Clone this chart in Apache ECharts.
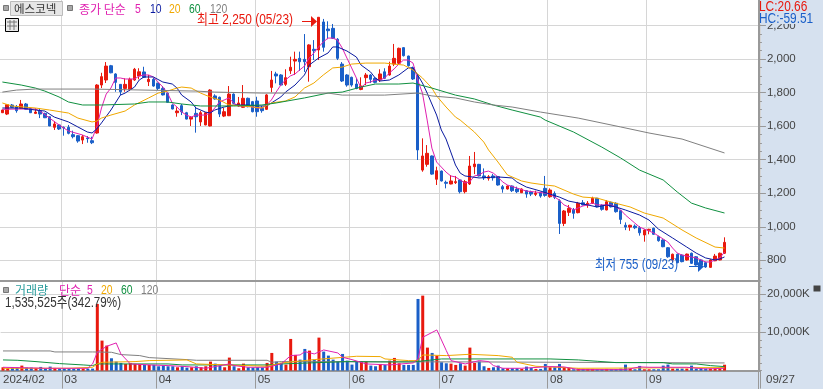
<!DOCTYPE html>
<html><head><meta charset="utf-8">
<style>html,body{margin:0;padding:0;background:#fff}#c{width:823px;height:389px}</style>
<script src="https://cdn.jsdelivr.net/npm/echarts@6/dist/echarts.min.js"></script>
</head><body><div id="c"></div>
<script>
// [open, close, low, high]
const ohlc = [[1680,1696,1678,1699],[1672,1728,1666,1732],[1726,1712,1708,1732],[1716,1692,1680,1726],[1706,1732,1702,1756],[1732,1700,1696,1738],[1704,1680,1678,1708],[1676,1684,1672,1706],[1690,1672,1648,1708],[1676,1650,1648,1680],
[1656,1601,1600,1658],[1593,1613,1577,1630],[1607,1583,1577,1613],[1593,1590,1543,1598],[1593,1557,1551,1607],[1549,1537,1527,1573],[1543,1511,1501,1547],[1517,1537,1493,1547],[1529,1525,1501,1541],[1513,1501,1493,1537],
[1559,1845,1555,1850],[1845,1895,1827,1918],[1875,1958,1857,1982],[1960,1918,1915,1965],[1911,1861,1805,1915],[1849,1805,1785,1850],[1825,1849,1805,1885],[1819,1879,1809,1889],[1875,1939,1870,1947],[1899,1924,1879,1945],
[1923,1891,1888,1954],[1865,1879,1839,1905],[1879,1839,1835,1887],[1855,1825,1815,1860],[1825,1786,1783,1839],[1796,1742,1740,1800],[1726,1702,1700,1730],[1680,1690,1656,1712],[1722,1686,1666,1732],[1680,1642,1640,1685],
[1642,1653,1601,1660],[1676,1656,1561,1716],[1625,1680,1601,1690],[1607,1680,1605,1684],[1601,1815,1598,1820],[1780,1762,1758,1790],[1772,1672,1654,1776],[1660,1686,1654,1708],[1662,1791,1660,1839],[1791,1736,1732,1795],
[1720,1738,1715,1774],[1712,1766,1708,1845],[1766,1716,1712,1770],[1746,1686,1682,1750],[1750,1686,1656,1775],[1706,1692,1680,1720],[1700,1786,1696,1791],[1831,1875,1802,1929],[1911,1899,1855,1924],[1905,1845,1842,1910],
[1849,1889,1839,1939],[1930,1951,1911,2014],[1988,1998,1905,2044],[2004,1984,1929,2044],[1998,1984,1923,2149],[1954,2084,1865,2088],[2058,2050,1994,2113],[2054,2249,1994,2250],[2221,2070,2044,2239],[2179,2169,2118,2225],
[2183,2124,2120,2209],[2118,2004,1994,2125],[1970,1869,1863,1982],[1905,1845,1835,1910],[1891,1845,1835,1895],[1851,1825,1820,1885],[1819,1839,1814,1891],[1889,1905,1845,1917],[1905,1879,1857,1910],[1885,1861,1855,1890],
[1875,1911,1863,1939],[1924,1885,1880,1945],[1905,1958,1901,1984],[1970,2004,1958,2090],[1975,2064,1970,2068],[2068,2020,2015,2070],[2018,1960,1955,2020],[1948,1881,1875,1955],[1899,1458,1398,1905],[1338,1422,1328,1527],
[1372,1438,1358,1487],[1422,1314,1310,1425],[1283,1334,1249,1358],[1332,1273,1270,1335],[1265,1259,1229,1275],[1255,1273,1253,1308],[1263,1269,1255,1303],[1279,1209,1199,1283],[1209,1269,1199,1279],[1255,1362,1249,1422],
[1358,1374,1314,1446],[1372,1303,1300,1375],[1303,1292,1279,1348],[1289,1298,1275,1308],[1303,1292,1275,1315],[1298,1249,1245,1303],[1239,1225,1203,1249],[1225,1243,1222,1246],[1243,1215,1207,1246],[1225,1209,1201,1239],
[1203,1225,1201,1229],[1215,1195,1173,1218],[1207,1195,1183,1215],[1193,1201,1183,1215],[1203,1183,1173,1209],[1229,1187,1179,1303],[1179,1219,1173,1229],[1199,1176,1165,1211],[1155,1020,957,1164],[1020,1094,1004,1100],
[1086,1110,1064,1130],[1100,1080,1048,1112],[1084,1140,1080,1148],[1143,1130,1128,1159],[1130,1140,1113,1153],[1140,1170,1136,1179],[1170,1119,1115,1172],[1128,1104,1096,1134],[1100,1149,1098,1159],[1146,1119,1115,1150],
[1140,1090,1084,1146],[1096,1044,1016,1100],[1009,998,980,1026],[998,1009,976,1012],[1004,994,986,1014],[994,964,947,1004],[951,980,911,985],[979,985,955,988],[991,955,952,995],[941,917,911,947],
[921,881,878,925],[875,821,815,879],[802,836,790,840],[836,786,782,840],[831,792,788,836],[802,837,798,840],[842,782,778,846],[821,772,768,825],[802,772,768,808],[786,760,755,792],
[758,802,756,806],[797,825,795,838],[802,842,800,846],[842,907,838,937]];

const volume = [870,609,783,783,1305,783,783,696,957,609,1044,696,522,522,522,522,522,522,522,522,
17400,7830,6525,3219,2349,2001,1740,2001,1740,1740,1479,1479,1479,1131,1305,1131,1131,870,1131,783,
870,1131,870,1131,2349,1827,1305,870,3393,1131,609,1827,870,783,870,783,2001,4611,2349,2001,
1566,8265,4089,2871,5655,5220,2871,8613,4959,3915,2871,2349,4350,2610,1566,2349,2436,2436,1305,1131,
1740,1479,2610,3306,1914,1479,1479,1479,18705,19575,6003,4611,3915,2175,1914,1827,1479,1914,1305,6003,
2001,2349,1131,696,870,1305,609,609,609,609,435,1044,696,435,435,1740,870,870,1740,870,
696,348,522,435,435,435,348,348,435,348,348,522,1566,435,348,1218,348,348,348,348,
1305,1566,522,522,522,522,1305,522,522,522,522,522,522,1536];

const ma5 = [[0,1700],[3,1702],[7,1702],[8,1690],[10,1648],[12,1607],[14,1571],[17,1547],[19,1523],[20,1595],[21,1708],[22,1791],[23,1827],[24,1887],[25,1887],[26,1881],[28,1881],[29,1899],[30,1905],[31,1905],[32,1893],[33,1863],[34,1833],[35,1797],[36,1738],[37,1714],[38,1684],[39,1666],[40,1654],[41,1666],[43,1666],[44,1678],[45,1708],[46,1744],[47,1756],[48,1768],[49,1738],[50,1720],[52,1720],[54,1708],[55,1708],[56,1726],[57,1756],[58,1803],[59,1845],[60,1875],[61,1899],[62,1911],[63,1935],[64,1958],[65,2006],[66,2036],[67,2072],[68,2102],[69,2125],[70,2125],[71,2113],[72,2066],[73,2006],[74,1947],[75,1887],[76,1827],[77,1857],[78,1863],[79,1875],[80,1875],[81,1887],[82,1917],[83,1941],[84,1970],[85,1994],[86,1994],[87,1976],[88,1875],[89,1797],[90,1636],[91,1469],[92,1386],[93,1356],[94,1326],[95,1303],[96,1297],[97,1279],[98,1261],[99,1267],[100,1303],[101,1309],[102,1326],[103,1332],[104,1320],[105,1297],[106,1267],[107,1249],[109,1231],[111,1213],[113,1207],[115,1201],[116,1195],[117,1177],[118,1159],[119,1130],[120,1118],[121,1100],[122,1112],[123,1124],[124,1130],[125,1142],[126,1130],[127,1130],[129,1130],[130,1118],[131,1100],[132,1070],[133,1046],[134,1022],[135,998],[136,987],[137,975],[138,963],[139,945],[140,927],[141,909],[142,873],[143,843],[144,831],[145,825],[146,820],[147,814],[148,802],[149,790],[150,790],[151,802],[152,814],[153,849]];
const ma10 = [[0,1708],[4,1708],[7,1696],[9,1690],[11,1654],[14,1625],[16,1595],[18,1565],[19,1559],[20,1583],[21,1619],[23,1696],[25,1785],[26,1797],[28,1833],[29,1875],[30,1893],[32,1893],[34,1863],[36,1851],[37,1827],[38,1785],[40,1744],[41,1708],[43,1684],[44,1678],[45,1696],[47,1714],[49,1726],[52,1726],[54,1720],[56,1720],[57,1738],[59,1774],[60,1803],[62,1845],[64,1905],[65,1964],[67,2006],[69,2036],[70,2072],[71,2072],[73,2048],[75,2012],[76,1964],[78,1923],[79,1887],[80,1869],[82,1875],[84,1905],[86,1947],[87,1947],[88,1905],[89,1857],[90,1797],[92,1666],[93,1577],[94,1523],[95,1446],[96,1368],[97,1320],[98,1303],[101,1291],[105,1297],[108,1291],[109,1267],[111,1237],[114,1213],[116,1195],[118,1177],[120,1153],[122,1142],[124,1130],[126,1118],[128,1130],[130,1118],[132,1100],[135,1070],[137,1040],[139,986],[142,933],[145,879],[147,843],[149,814],[151,802],[152,808],[153,820]];
const ma20 = [[0,1738],[2,1720],[7,1708],[10,1696],[14,1678],[16,1648],[19,1625],[20,1630],[21,1648],[23,1666],[26,1690],[28,1726],[31,1768],[33,1797],[35,1809],[37,1827],[38,1833],[40,1827],[42,1797],[44,1774],[46,1756],[48,1726],[51,1720],[55,1708],[57,1738],[60,1750],[62,1774],[64,1827],[66,1857],[68,1905],[70,1947],[72,1952],[74,1970],[77,1976],[81,1976],[85,1964],[87,1935],[88,1911],[89,1887],[91,1827],[92,1780],[94,1714],[96,1654],[97,1636],[100,1565],[102,1505],[103,1458],[105,1386],[107,1309],[110,1273],[112,1261],[115,1249],[117,1243],[119,1219],[121,1195],[123,1177],[126,1171],[129,1147],[133,1118],[136,1082],[140,1052],[144,981],[147,933],[151,879],[153,873]];
const ma60 = [[0,1863],[4,1845],[7,1827],[9,1809],[12,1774],[14,1744],[17,1726],[21,1726],[28,1732],[31,1744],[35,1744],[38,1732],[42,1720],[49,1720],[55,1726],[58,1738],[64,1768],[69,1797],[72,1803],[76,1833],[79,1851],[84,1851],[87,1857],[91,1827],[96,1785],[100,1762],[104,1726],[108,1696],[114,1654],[115,1636],[121,1565],[127,1475],[131,1410],[135,1338],[140,1279],[143,1207],[146,1141],[149,1112],[153,1082]];
const ma120 = [[0,1803],[3,1815],[7,1821],[19,1821],[41,1809],[45,1803],[55,1797],[69,1797],[72,1785],[81,1785],[88,1797],[91,1780],[96,1768],[100,1744],[104,1726],[108,1714],[114,1684],[122,1648],[131,1595],[137,1559],[144,1523],[153,1440]];

const volMa5 = [[0,870],[9,609],[18,609],[19,1740],[20,4785],[22,6351],[24,7221],[25,4350],[27,1740],[31,1479],[35,1305],[39,1044],[43,609],[48,1740],[49,1305],[52,870],[56,870],[59,1740],[61,3915],[63,4089],[64,4959],[66,4350],[68,5394],[71,4611],[72,3480],[74,2871],[77,1740],[82,1479],[87,2001],[88,3045],[89,8700],[92,10614],[94,5220],[95,2610],[98,1740],[101,2610],[103,2349],[104,1305],[106,609],[110,609],[116,1044],[119,957],[122,261],[132,261],[135,957],[137,870],[145,870],[149,435],[153,609]];
const volMa20 = [[0,609],[14,609],[19,870],[20,1740],[21,2175],[28,2349],[31,2610],[39,2784],[41,1740],[56,1131],[59,2001],[66,2871],[75,3741],[80,3654],[81,3045],[86,2610],[88,2610],[89,4089],[94,3915],[99,4263],[105,3915],[108,3480],[109,2175],[113,1131],[122,609],[153,783]];
const volMa60 = [[0,2784],[3,2697],[7,2349],[12,1827],[17,1479],[19,1305],[20,1740],[35,1740],[38,1479],[56,1479],[59,1740],[73,2349],[80,2262],[87,2262],[93,3045],[116,3045],[122,2784],[126,2436],[130,2088],[140,2088],[142,1740],[147,1740],[150,1305],[153,1044]];
const volMa120 = [[0,5133],[10,5133],[11,4872],[19,4872],[23,4785],[25,4176],[29,3915],[31,3393],[39,2871],[41,2697],[56,2697],[57,2175],[59,2349],[100,2262],[118,2175],[153,2001]];

const monthLabels = {0:'2024/02',13:'03',33:'04',54:'05',74:'06',93:'07',116:'08',137:'09'};
const monthLines = [13,33,54,74,93,116,137];
const categories = Array.from({length:161},(_,i)=>String(i));
const priceLabels = [800,1000,1200,1400,1600,1800,2000,2200];
const priceMinor = [700,750,850,900,950,1050,1100,1150,1250,1300,1350,1450,1500,1550,1650,1700,1750,1850,1900,1950,2050,2100,2150,2250,2300,2350];
const volLabels = [10000,20000];
const volMinor = [0,2000,4000,6000,8000,12000,14000,16000,18000,22000];

const RED='#e8190e', BLUE='#1a5fc8', MAG='#e020b0', NAVY='#0a1aa0', ORG='#f0a800', GRN='#109040', GRY='#808080';
const AX='#999999', GL='#d6d6d6', PANEL='#d6e1ef', TXT='#444444';
const NARROW='"Liberation Sans",sans-serif';
const CJK='"Liberation Sans","Noto Sans CJK KR",sans-serif';
const KR='"Noto Sans CJK KR",sans-serif';

function xAxisOf(gi, labels){
  return {type:'category',gridIndex:gi,data:categories,boundaryGap:true,
    axisLine:{show:true,lineStyle:{color:AX,width:2}},
    axisTick:{show:labels,length:18,lineStyle:{color:AX,width:1},interval:i=>monthLines.includes(i)},
    axisLabel:{show:labels,interval:i=>i in monthLabels,formatter:(v,i)=>monthLabels[i],align:'left',margin:3,color:TXT,fontSize:11.5,fontFamily:NARROW},
    splitLine:{show:true,lineStyle:{color:GL,width:1},interval:i=>monthLines.includes(i)}};
}
function yAxes(gi,min,max,major,minor,fmt){
  return [{type:'value',gridIndex:gi,position:'right',offset:-1,min,max,
      axisLine:{show:true,lineStyle:{color:AX,width:2}},
      axisTick:{show:true,length:7,customValues:major,lineStyle:{color:AX}},
      axisLabel:{show:true,customValues:major,formatter:fmt,margin:8,color:TXT,fontSize:11.5,fontFamily:NARROW,align:'left',showMinLabel:true,showMaxLabel:true},
      splitLine:{show:true,lineStyle:{color:GL,width:1}}},
    {type:'value',gridIndex:gi,position:'right',offset:-1,min,max,
      axisLine:{show:false},
      axisTick:{show:true,length:3,customValues:minor,lineStyle:{color:AX}},
      axisLabel:{show:false},splitLine:{show:false}}];
}
function line(name,data,color,x,y){
  return {name,type:'line',data,xAxisIndex:x,yAxisIndex:y,showSymbol:false,symbol:'none',smooth:false,
    lineStyle:{color,width:1},itemStyle:{color},silent:true,z:3,animation:false};
}
function txt(x,y,text,fill,size,font,z,sx){
  return {type:'text',x,y,z:z||20,scaleX:sx||1,silent:true,style:{text,fill,font:(size||12)+'px '+(font||CJK),verticalAlign:'middle',align:'left'}};
}
function rect(x,y,w,h,fill,stroke,z){
  return {type:'rect',x,y,z:z||20,silent:true,shape:{x:0,y:0,width:w,height:h},style:{fill,stroke:stroke||null,lineWidth:stroke?1:0}};
}
const graphics=[
  rect(758,0,65,389,PANEL,null,-5),
  rect(0,371,758,18,PANEL,null,-5),
  rect(760,0,63,24,PANEL,null,30),
  txt(759,7,'LC:20.66',RED,14,NARROW,31,0.85),
  txt(759,19,'HC:-59.51',BLUE,14,NARROW,31,0.85),
  rect(3.5,5.5,5,5,'#a8a8a8','#777'),
  rect(10.5,1.5,52,14,'#e6e6e6','#bbb'),
  txt(14,9,'에스코넥','#333',11.5,KR),
  rect(67.5,5.5,5,5,'#a8a8a8','#777'),
  txt(79,9,'종가 단순',MAG,12,KR),
  txt(135,9,'5',MAG,13,NARROW,20,0.8),
  txt(150,9,'10',NAVY,13,NARROW,20,0.8),
  txt(169,9,'20',ORG,13,NARROW,20,0.8),
  txt(189,9,'60',GRN,13,NARROW,20,0.8),
  txt(210,9,'120',GRY,13,NARROW,20,0.8),
  rect(5.5,18.5,13,13,'#e8e8e8','#000'),
  {type:'line',silent:true,z:21,shape:{x1:7,y1:22,x2:17,y2:22},style:{stroke:'#777'}},
  {type:'line',silent:true,z:21,shape:{x1:7,y1:26,x2:17,y2:26},style:{stroke:'#777'}},
  {type:'line',silent:true,z:21,shape:{x1:10,y1:20,x2:10,y2:30},style:{stroke:'#777'}},
  {type:'line',silent:true,z:21,shape:{x1:14,y1:20,x2:14,y2:30},style:{stroke:'#777'}},
  txt(197,20,'최고 2,250 (05/23)',RED,14,CJK,20,0.85),
  {type:'line',silent:true,z:21,shape:{x1:302,y1:21.5,x2:312,y2:21.5},style:{stroke:RED}},
  {type:'polygon',silent:true,z:21,shape:{points:[[311,16],[317,21.5],[311,27]]},style:{fill:RED}},
  txt(595,265,'최저 755 (09/23)',BLUE,14,CJK,20,0.82),
  {type:'line',silent:true,z:21,shape:{x1:689,y1:266.5,x2:699,y2:266.5},style:{stroke:BLUE}},
  {type:'polygon',silent:true,z:21,shape:{points:[[698,262],[704,266.5],[698,272]]},style:{fill:BLUE}},
  rect(3.5,287.5,5,5,'#a8a8a8','#777'),
  txt(15,290,'거래량','#2a9d9d',12,KR),
  txt(59,290,'단순',MAG,12,KR),
  txt(87,290,'5',MAG,13,NARROW,20,0.8),
  txt(101,290,'20',ORG,13,NARROW,20,0.8),
  txt(121,290,'60',GRN,13,NARROW,20,0.8),
  txt(141,290,'120',GRY,13,NARROW,20,0.8),
  txt(5,303,'1,535,525주(342.79%)','#333',14,CJK,20,0.83),
  txt(766,380,'09/27',TXT,11.5,NARROW),
  rect(813.5,285.5,7,6,'#444444',null),
  {type:'line',silent:true,z:21,shape:{x1:758.5,y1:371,x2:758.5,y2:389},style:{stroke:AX}}
];

const chart=echarts.init(document.getElementById('c'),null,{renderer:'canvas'});
chart.setOption({
  animation:false,
  backgroundColor:'#ffffff',
  grid:[{left:0,top:0,width:759.92,height:281},{left:0,top:281,width:759.92,height:89.6}],
  xAxis:[xAxisOf(0,false),xAxisOf(1,true)],
  yAxis:[...yAxes(0,676.6,2352,priceLabels,priceMinor,v=>v.toLocaleString('en-US')),
         ...yAxes(1,0,23394,volLabels,volMinor,v=>v.toLocaleString('en-US')+'K')],
  series:[
    {name:'가격',type:'candlestick',data:ohlc,xAxisIndex:0,yAxisIndex:0,barWidth:3,z:2,silent:true,
      itemStyle:{color:RED,color0:BLUE,borderColor:RED,borderColor0:BLUE,borderWidth:1}},
    line('5',ma5,MAG,0,0),line('10',ma10,NAVY,0,0),line('20',ma20,ORG,0,0),line('60',ma60,GRN,0,0),line('120',ma120,GRY,0,0),
    {name:'거래량',type:'bar',data:volume,xAxisIndex:1,yAxisIndex:2,barWidth:3,silent:true,z:2,
      itemStyle:{color:p=>{const o=ohlc[p.dataIndex];return o[1]>=o[0]?RED:BLUE;}}},
    line('v120',volMa120,GRY,1,2),line('v60',volMa60,GRN,1,2),line('v20',volMa20,ORG,1,2),line('v5',volMa5,MAG,1,2)
  ],
  graphic:graphics
});
</script></body></html>
